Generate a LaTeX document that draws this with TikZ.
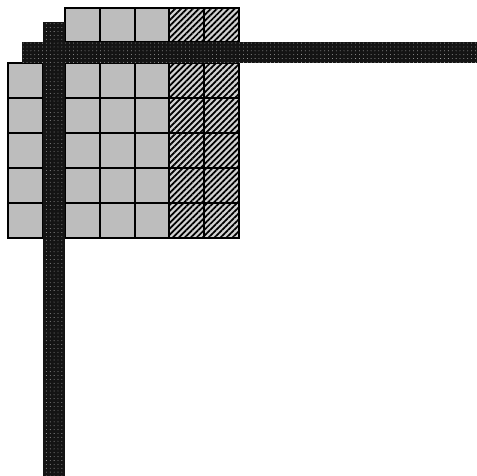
\documentclass[tikz,border=0pt]{standalone}
\usepackage{tikz}
\usetikzlibrary{patterns.meta}

\tikzset{
  cellbox/.style={draw=black, line width=1.2pt, fill=gray!52},
  hatchbox/.style={draw=black, line width=1.2pt, fill=gray!35,
    postaction={pattern={Lines[angle=45,distance=2.4pt,line width=1pt]}, pattern color=black}},
  barbox/.style={fill=black!92,
    postaction={pattern={Dots[distance=2.2pt,radius=0.25pt]}, pattern color=gray!55}}
}

\begin{document}
\begin{tikzpicture}[x=0.02cm, y=-0.02cm]
  \useasboundingbox (0,0) rectangle (477,476);
  % back row
  \foreach \x in {65,99.8,134.6}
    \draw[cellbox] (\x,8) rectangle +(34.8,34.5);
  \foreach \x in {169.4,204.2}
    \draw[hatchbox] (\x,8) rectangle +(34.8,34.5);
  % main block
  \foreach \y in {63,98,133,168,203} {
    \draw[cellbox] (8,\y) rectangle +(35,35);
    \foreach \x in {65,99.8,134.6}
      \draw[cellbox] (\x,\y) rectangle +(34.8,35);
    \foreach \x in {169.4,204.2}
      \draw[hatchbox] (\x,\y) rectangle +(34.8,35);
  }
  % bars
  \path[barbox] (22,42) rectangle (477,63);
  \path[barbox] (43,22) rectangle (65,476);
\end{tikzpicture}
\end{document}
